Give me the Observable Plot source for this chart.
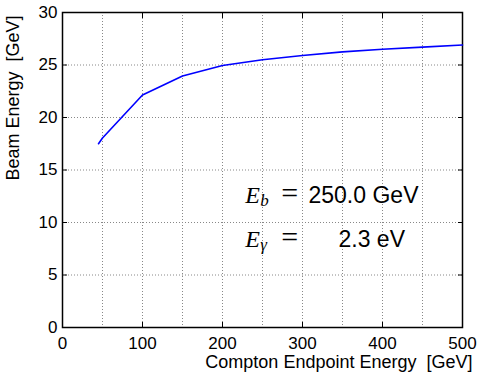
<!DOCTYPE html>
<html>
<head>
<meta charset="utf-8">
<script src="https://cdn.jsdelivr.net/npm/d3@7"></script>
<script src="https://cdn.jsdelivr.net/npm/@observablehq/plot@0.6"></script>
<style>
  html, body { margin: 0; padding: 0; background: #fff; }
  svg text { white-space: pre; }
</style>
</head>
<body>
<div id="chart"></div>
<script>
// Compton endpoint energy (GeV) and the beam energy (GeV) that produces it
const endpointEnergy = [45, 50, 100, 150, 200, 250, 300, 350, 400, 450, 500];
const beamEnergy = [17.5, 18.05, 22.15, 23.95, 24.95, 25.5, 25.9, 26.25, 26.5, 26.7, 26.9];

// Axis ticks and grid positions
const xTicks = [0, 100, 200, 300, 400, 500];
const xGrid = [50, 100, 150, 200, 250, 300, 350, 400, 450];
const yTicks = [0, 5, 10, 15, 20, 25, 30];
const yGrid = [5, 10, 15, 20, 25];

// Annotation: symbol subscripts and their values
const annoSubscripts = ["b", "γ"];
const annoValues = ["250.0 GeV", "2.3 eV"];

const data = endpointEnergy.map((x, i) => ({x, y: beamEnergy[i]}));
const rows = annoSubscripts.map((s, i) => ({sub: s, value: annoValues[i], i}));

const sans = "'Liberation Sans', Arial, Helvetica, sans-serif";
const serif = "'Liberation Serif', 'Times New Roman', serif";
const rowY = (d) => 11.9 - 4.28 * d.i;

const chart = Plot.plot({
  width: 478,
  height: 373,
  marginLeft: 62,
  marginRight: 16,
  marginTop: 12,
  marginBottom: 46,
  style: {fontFamily: sans, fontSize: "17px", background: "#fff", color: "#000"},
  x: {domain: [0, 500]},
  y: {domain: [0, 30]},
  marks: [
    Plot.gridX(xGrid, {stroke: "#888", strokeOpacity: 1, strokeDasharray: "1,2"}),
    Plot.gridY(yGrid, {stroke: "#888", strokeOpacity: 1, strokeDasharray: "1,2"}),
    // tick labels
    Plot.axisX(xTicks, {anchor: "bottom", tickSize: 0, tickPadding: 9, label: null, fontSize: 17}),
    Plot.axisY(yTicks, {anchor: "left", tickSize: 0, tickPadding: 5, label: null, fontSize: 17}),
    // inward tick marks on all four sides
    Plot.axisX(xTicks, {anchor: "bottom", tickSize: 5, dy: -5, tickFormat: () => "", label: null}),
    Plot.axisX(xTicks, {anchor: "top", tickSize: 5, dy: 5, tickFormat: () => "", label: null}),
    Plot.axisY(yTicks, {anchor: "left", tickSize: 5, dx: 5, tickFormat: () => "", label: null}),
    Plot.axisY(yTicks, {anchor: "right", tickSize: 5, dx: -5, tickFormat: () => "", label: null}),
    Plot.frame({stroke: "#000", strokeWidth: 1.5}),
    Plot.line(data, {x: "x", y: "y", stroke: "#0000ff", strokeWidth: 1.6}),
    // axis titles
    Plot.text(["Compton Endpoint Energy  [GeV]"], {
      frameAnchor: "bottom-right", textAnchor: "end", lineAnchor: "bottom",
      dx: 10, dy: 40, fontSize: 18, fontFamily: sans
    }),
    Plot.text(["Beam Energy  [GeV]"], {
      frameAnchor: "top-left", textAnchor: "end", lineAnchor: "bottom",
      rotate: -90, dx: -44, dy: 3, fontSize: 18, fontFamily: sans
    }),
    // annotation: E_b = 250.0 GeV, E_γ = 2.3 eV
    Plot.text(rows, {
      x: 228.5, y: rowY, text: () => "E", textAnchor: "start", lineAnchor: "bottom",
      fontFamily: serif, fontStyle: "italic", fontSize: 24
    }),
    Plot.text(rows, {
      x: 228.5, y: rowY, text: "sub", textAnchor: "start", lineAnchor: "bottom",
      dx: 15, dy: 3, fontFamily: serif, fontStyle: "italic", fontSize: 17
    }),
    Plot.text(rows, {
      x: 228.5, y: rowY, text: () => "=", textAnchor: "start", lineAnchor: "bottom",
      dx: 36, fontFamily: serif, fontSize: 30
    }),
    Plot.text(rows, {
      x: (d) => (d.i === 0 ? 307.5 : 345), y: rowY, text: "value",
      textAnchor: "start", lineAnchor: "bottom", fontFamily: sans, fontSize: 23
    })
  ]
});

document.getElementById("chart").appendChild(chart);
</script>
</body>
</html>
